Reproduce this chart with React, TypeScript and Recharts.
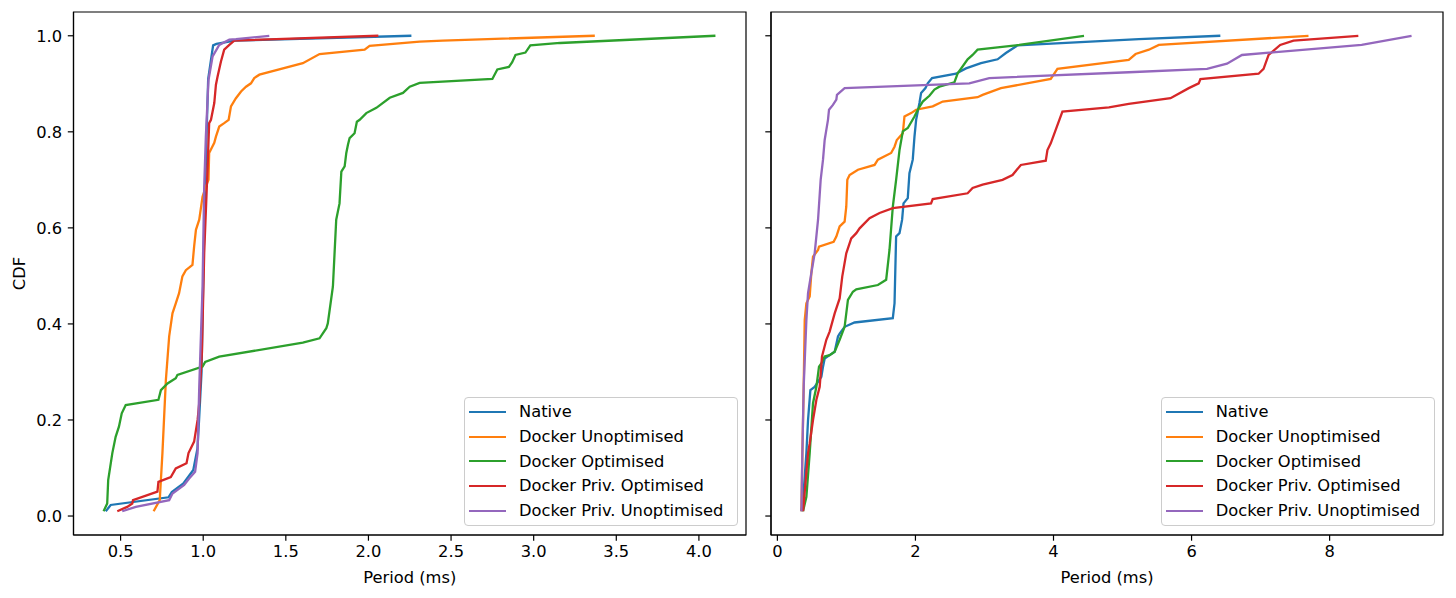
import { LineChart, Line, XAxis, YAxis, ReferenceArea, Legend } from 'recharts'

// [period (ms), cdf]
const leftNative: [number, number][] = [
  [0.41, 0.01], [0.42, 0.014], [0.44, 0.023], [0.79, 0.039], [0.81, 0.05], [0.88, 0.068],
  [0.94, 0.096], [0.965, 0.14], [0.975, 0.2], [0.99, 0.3], [1.005, 0.58], [1.02, 0.79],
  [1.03, 0.91], [1.06, 0.98], [1.08, 0.983], [1.19, 0.99], [2.26, 1.0],
]
const leftUnopt: [number, number][] = [
  [0.7, 0.01], [0.737, 0.033], [0.753, 0.13], [0.774, 0.283], [0.794, 0.374], [0.814, 0.422],
  [0.834, 0.443], [0.854, 0.464], [0.874, 0.499], [0.895, 0.512], [0.935, 0.523], [0.945, 0.561],
  [0.956, 0.596], [0.976, 0.617], [0.996, 0.665], [1.016, 0.686], [1.032, 0.7], [1.036, 0.756],
  [1.067, 0.777], [1.077, 0.79], [1.097, 0.811], [1.127, 0.818], [1.154, 0.825], [1.168, 0.853],
  [1.198, 0.87], [1.229, 0.884], [1.259, 0.894], [1.289, 0.901], [1.309, 0.912], [1.34, 0.919],
  [1.603, 0.943], [1.704, 0.962], [1.977, 0.971], [2.007, 0.979], [2.31, 0.988], [2.45, 0.99],
  [3.37, 1.0],
]
const leftOpt: [number, number][] = [
  [0.397, 0.01], [0.419, 0.026], [0.425, 0.075], [0.45, 0.131], [0.47, 0.165], [0.49, 0.186],
  [0.507, 0.214], [0.531, 0.231], [0.729, 0.242], [0.744, 0.262], [0.784, 0.276], [0.834, 0.287],
  [0.844, 0.294], [0.996, 0.311], [1.012, 0.321], [1.097, 0.332], [1.603, 0.361], [1.704, 0.37],
  [1.745, 0.391], [1.754, 0.401], [1.785, 0.478], [1.805, 0.617], [1.825, 0.651], [1.836, 0.717],
  [1.856, 0.728], [1.866, 0.756], [1.876, 0.773], [1.886, 0.787], [1.916, 0.797], [1.93, 0.821],
  [1.947, 0.825], [1.987, 0.839], [2.048, 0.85], [2.129, 0.871], [2.209, 0.881], [2.25, 0.894],
  [2.31, 0.902], [2.75, 0.91], [2.78, 0.93], [2.85, 0.935], [2.87, 0.945], [2.89, 0.96],
  [2.95, 0.965], [2.98, 0.98], [3.16, 0.985], [4.1, 1.0],
]
const leftPrivOpt: [number, number][] = [
  [0.48, 0.01], [0.54, 0.019], [0.571, 0.026], [0.575, 0.033], [0.723, 0.051], [0.729, 0.071],
  [0.804, 0.081], [0.834, 0.099], [0.899, 0.11], [0.911, 0.131], [0.945, 0.155], [0.966, 0.2],
  [0.976, 0.235], [0.992, 0.339], [1.006, 0.547], [1.026, 0.721], [1.036, 0.818], [1.047, 0.825],
  [1.067, 0.86], [1.077, 0.898], [1.087, 0.915], [1.107, 0.946], [1.127, 0.971], [1.158, 0.981],
  [1.188, 0.99], [2.06, 1.0],
]
const leftPrivUnopt: [number, number][] = [
  [0.51, 0.01], [0.592, 0.019], [0.794, 0.033], [0.814, 0.047], [0.885, 0.065], [0.915, 0.078],
  [0.951, 0.092], [0.966, 0.131], [0.976, 0.269], [0.996, 0.478], [1.006, 0.686], [1.016, 0.79],
  [1.032, 0.908], [1.057, 0.957], [1.097, 0.981], [1.158, 0.992], [1.198, 0.993], [1.4, 1.0],
]

// right panel
const rightNative: [number, number][] = [
  [0.348, 0.01], [0.372, 0.033], [0.42, 0.131], [0.444, 0.2], [0.478, 0.262], [0.54, 0.269],
  [0.637, 0.29], [0.661, 0.311], [0.685, 0.328], [0.757, 0.335], [0.83, 0.342], [0.878, 0.374],
  [0.902, 0.38], [0.974, 0.394], [1.118, 0.403], [1.672, 0.412], [1.697, 0.443], [1.72, 0.582],
  [1.769, 0.589], [1.807, 0.617], [1.827, 0.651], [1.889, 0.662], [1.913, 0.714], [1.961, 0.742],
  [1.986, 0.79], [2.01, 0.825], [2.058, 0.86], [2.082, 0.881], [2.145, 0.891], [2.178, 0.901],
  [2.241, 0.912], [2.588, 0.921], [2.732, 0.932], [2.949, 0.943], [3.19, 0.951], [3.31, 0.964],
  [3.479, 0.98], [5.237, 0.993], [6.417, 1.0],
]
const rightUnopt: [number, number][] = [
  [0.348, 0.01], [0.362, 0.131], [0.381, 0.269], [0.396, 0.408], [0.42, 0.443], [0.468, 0.457],
  [0.492, 0.506], [0.516, 0.54], [0.589, 0.554], [0.603, 0.561], [0.815, 0.571], [0.854, 0.582],
  [0.902, 0.603], [0.974, 0.613], [0.998, 0.644], [1.013, 0.7], [1.046, 0.71], [1.167, 0.721],
  [1.408, 0.731], [1.456, 0.742], [1.648, 0.756], [1.697, 0.769], [1.73, 0.783], [1.817, 0.797],
  [1.841, 0.832], [1.937, 0.839], [2.01, 0.846], [2.25, 0.853], [2.395, 0.863], [2.9, 0.872],
  [2.973, 0.877], [3.238, 0.891], [3.96, 0.91], [4.057, 0.931], [5.09, 0.95], [5.189, 0.962],
  [5.382, 0.971], [5.526, 0.981], [7.694, 1.0],
]
const rightOpt: [number, number][] = [
  [0.372, 0.01], [0.42, 0.04], [0.468, 0.131], [0.516, 0.235], [0.565, 0.269], [0.603, 0.311],
  [0.637, 0.318], [0.685, 0.332], [0.757, 0.335], [0.83, 0.342], [0.902, 0.367], [0.974, 0.394],
  [1.022, 0.45], [1.094, 0.467], [1.143, 0.472], [1.456, 0.481], [1.576, 0.492], [1.624, 0.554],
  [1.672, 0.644], [1.72, 0.7], [1.769, 0.762], [1.817, 0.801], [1.889, 0.808], [1.986, 0.832],
  [2.034, 0.846], [2.106, 0.863], [2.202, 0.875], [2.275, 0.888], [2.347, 0.894], [2.564, 0.903],
  [2.612, 0.922], [2.756, 0.951], [2.828, 0.96], [2.9, 0.971], [3.503, 0.981], [4.442, 1.0],
]
const rightPrivOpt: [number, number][] = [
  [0.372, 0.01], [0.444, 0.131], [0.468, 0.151], [0.516, 0.2], [0.565, 0.242], [0.613, 0.269],
  [0.646, 0.332], [0.709, 0.367], [0.757, 0.384], [0.83, 0.422], [0.902, 0.453], [0.94, 0.499],
  [0.998, 0.547], [1.07, 0.578], [1.143, 0.589], [1.191, 0.599], [1.335, 0.62], [1.48, 0.631],
  [1.672, 0.641], [2.226, 0.651], [2.25, 0.66], [2.756, 0.672], [2.828, 0.683], [2.973, 0.69],
  [3.262, 0.7], [3.406, 0.71], [3.527, 0.731], [3.888, 0.74], [3.912, 0.762], [3.96, 0.776],
  [4.129, 0.842], [4.803, 0.851], [5.09, 0.858], [5.695, 0.87], [5.96, 0.891], [6.104, 0.901],
  [6.128, 0.91], [6.971, 0.921], [7.043, 0.931], [7.116, 0.96], [7.284, 0.981], [7.477, 0.99],
  [8.416, 1.0],
]
const rightPrivUnopt: [number, number][] = [
  [0.348, 0.01], [0.362, 0.131], [0.381, 0.269], [0.42, 0.408], [0.444, 0.464], [0.492, 0.506],
  [0.54, 0.547], [0.589, 0.617], [0.627, 0.7], [0.661, 0.742], [0.685, 0.783], [0.709, 0.804],
  [0.733, 0.825], [0.748, 0.846], [0.805, 0.856], [0.854, 0.867], [0.863, 0.877], [0.974, 0.891],
  [2.78, 0.901], [3.069, 0.912], [5.09, 0.924], [6.224, 0.931], [6.513, 0.942], [6.73, 0.96],
  [8.464, 0.981], [9.187, 1.0],
]

const seriesNames = [
  'Native',
  'Docker Unoptimised',
  'Docker Optimised',
  'Docker Priv. Optimised',
  'Docker Priv. Unoptimised',
]
const colors = ['#1f77b4', '#ff7f0e', '#2ca02c', '#d62728', '#9467bd']

const leftTicks = [0.5, 1.0, 1.5, 2.0, 2.5, 3.0, 3.5, 4.0]
const rightTicks = [0, 2, 4, 6, 8]
const cdfTicks = [0, 0.2, 0.4, 0.6, 0.8, 1.0]

const FONT = 'DejaVu Sans'
const FS = 16.3

const toPoints = (rows: [number, number][]) => rows.map(([x, y]) => ({ x, y }))

// recharts sorts legend payload by name, so keep the plotting order here
const LegendBox = () => (
  <div
    style={{
      width: 274,
      height: 129,
      boxSizing: 'border-box',
      border: '1px solid #cccccc',
      borderRadius: 4,
      background: 'rgba(255,255,255,0.8)',
      paddingTop: 2,
      fontFamily: FONT,
      fontSize: FS,
      color: '#000',
    }}
  >
    {seriesNames.map((name, i) => (
      <div key={name} style={{ display: 'flex', alignItems: 'center', height: 24.7 }}>
        <span
          style={{
            marginLeft: 4,
            width: 37,
            height: 0,
            borderTop: `2.3px solid ${colors[i]}`,
          }}
        />
        <span style={{ marginLeft: 13, whiteSpace: 'nowrap' }}>{name}</span>
      </div>
    ))}
  </div>
)

const Panel = ({
  series,
  xDomain,
  xTicks,
  xFormat,
  width,
  left,
  yAxisWidth,
  marginRight,
  showYLabels,
  legendLeft,
}: {
  series: [number, number][][]
  xDomain: [number, number]
  xTicks: number[]
  xFormat: (v: number) => string
  width: number
  left: number
  yAxisWidth: number
  marginRight: number
  showYLabels: boolean
  legendLeft: number
}) => {
  const yDomain: [number, number] = [-0.0395, 1.0495]
  const tickStyle = { fill: '#000', fontSize: FS, fontFamily: FONT }
  const lineStyle = { stroke: '#000', strokeWidth: 1.2 }
  return (
    <div style={{ position: 'absolute', left, top: 0 }}>
      <LineChart
        width={width}
        height={598}
        margin={{ top: 12, right: marginRight, bottom: 0, left: 0 }}
      >
        <XAxis
          type='number'
          dataKey='x'
          domain={xDomain}
          ticks={xTicks}
          tickFormatter={xFormat}
          allowDataOverflow
          height={63}
          tick={tickStyle}
          tickSize={5.7}
          tickMargin={5}
          axisLine={lineStyle}
          tickLine={lineStyle}
          label={{
            value: 'Period (ms)',
            position: 'insideBottom',
            offset: 15,
            style: { fill: '#000', fontSize: FS, fontFamily: FONT },
          }}
        />
        <YAxis
          type='number'
          dataKey='y'
          domain={yDomain}
          ticks={cdfTicks}
          tickFormatter={(v: number) => (showYLabels ? v.toFixed(1) : '')}
          allowDataOverflow
          width={yAxisWidth}
          tick={tickStyle}
          tickSize={5.7}
          tickMargin={5.7}
          axisLine={lineStyle}
          tickLine={lineStyle}
          label={
            showYLabels
              ? {
                  value: 'CDF',
                  angle: -90,
                  position: 'insideLeft',
                  offset: 19,
                  style: { fill: '#000', fontSize: FS, fontFamily: FONT, textAnchor: 'middle' },
                }
              : undefined
          }
        />
        <ReferenceArea
          x1={xDomain[0]}
          x2={xDomain[1]}
          y1={yDomain[0]}
          y2={yDomain[1]}
          fill='none'
          stroke='#000'
          strokeWidth={1.2}
          ifOverflow='visible'
        />
        {series.map((rows, i) => (
          <Line
            key={seriesNames[i]}
            name={seriesNames[i]}
            data={toPoints(rows)}
            dataKey='y'
            type='linear'
            stroke={colors[i]}
            strokeWidth={2.3}
            dot={false}
            activeDot={false}
            isAnimationActive={false}
          />
        ))}
        <Legend
          layout='horizontal'
          align='center'
          verticalAlign='middle'
          content={<LegendBox />}
          wrapperStyle={{ left: legendLeft, top: 396.5, width: 274, height: 129 }}
        />
      </LineChart>
    </div>
  )
}

export default function App() {
  return (
    <div
      style={{
        position: 'absolute',
        left: 0,
        top: 0,
        width: 1456,
        height: 598,
        background: '#fff',
      }}
    >
      <Panel
        series={[leftNative, leftUnopt, leftOpt, leftPrivOpt, leftPrivUnopt]}
        xDomain={[0.215, 4.285]}
        xTicks={leftTicks}
        xFormat={(v) => v.toFixed(1)}
        width={758}
        left={0}
        yAxisWidth={73.5}
        marginRight={12}
        showYLabels
        legendLeft={464}
      />
      <Panel
        series={[rightNative, rightUnopt, rightOpt, rightPrivOpt, rightPrivUnopt]}
        xDomain={[-0.0925, 9.6425]}
        xTicks={rightTicks}
        xFormat={(v) => String(v)}
        width={698}
        left={758}
        yAxisWidth={13}
        marginRight={13}
        showYLabels={false}
        legendLeft={402.7}
      />
    </div>
  )
}
